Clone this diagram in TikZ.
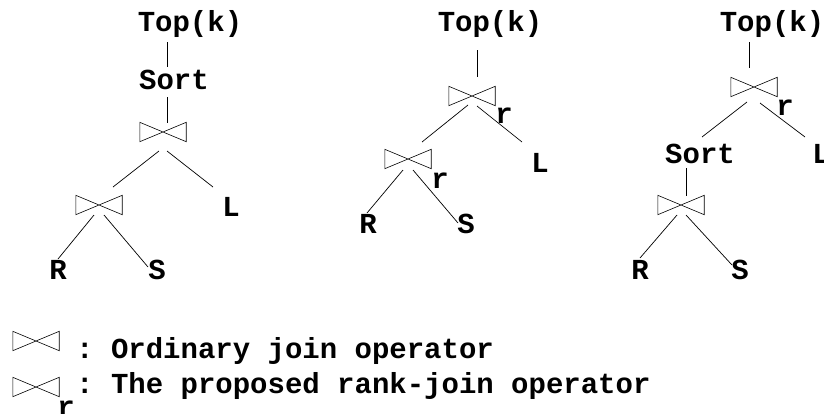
\documentclass[tikz,border=0pt]{standalone}
\usepackage{fontspec}
\setmonofont{Liberation Mono}
\usetikzlibrary{calc}

\tikzset{
  lbl/.style={inner sep=0pt, font=\ttfamily\bfseries\fontsize{29}{29}\selectfont},
  bowtie/.style={draw=none, inner sep=0pt, minimum width=46pt, minimum height=19pt,
    append after command={\pgfextra{\draw[line width=0.6pt, line join=miter]
      (\tikzlastnode.north west) -- (\tikzlastnode.south west)
      -- (\tikzlastnode.north east) -- (\tikzlastnode.south east) -- cycle;}}},
  edge/.style={line width=0.7pt}
}

\begin{document}
\begin{tikzpicture}[x=1pt,y=-1pt]
\useasboundingbox (0,0) rectangle (824,413);

% ---- plan 1: sort over ordinary joins ----
\node[lbl] (t1top)  at (190,24) {Top(k)};
\node[lbl] (t1sort) at (174,80) {Sort};
\node[bowtie] (j1) at (163,132) {};
\node[bowtie] (j2) at (99,205) {};
\node[lbl] (t1L) at (231,207) {L};
\node[lbl] (t1R) at (58,270) {R};
\node[lbl] (t1S) at (157,270) {S};

\draw[edge] ([shift={(-23,18)}]t1top.center) -- ([shift={(-7,-13)}]t1sort.center);
\draw[edge] ([shift={(-7,17)}]t1sort.center) -- ([shift={(4,-9)}]j1.center);
\draw[edge] ([shift={(-4,19)}]j1.center) -- ([shift={(14,-18)}]j2.center);
\draw[edge] ([shift={(4,19)}]j1.center) -- ([shift={(-18,-20)}]t1L.center);
\draw[edge] ([shift={(-5,10)}]j2.center) -- ([shift={(0,-11)}]t1R.center);
\draw[edge] ([shift={(5,10)}]j2.center) -- ([shift={(-9,-3)}]t1S.center);

% ---- plan 2: rank-joins only ----
\node[lbl] (t2top) at (490,24) {Top(k)};
\node[bowtie] (j3) at (472,96) {};
\node[lbl] (r3) at (504,116) {r};
\node[bowtie] (j4) at (408,159) {};
\node[lbl] (r4) at (440,181) {r};
\node[lbl] (t2L) at (540,163) {L};
\node[lbl] (t2R) at (368,224) {R};
\node[lbl] (t2S) at (466,224) {S};

\draw[edge] ([shift={(-13,26)}]t2top.center) -- ([shift={(5,-19)}]j3.center);
\draw[edge] ([shift={(-4,9)}]j3.center) -- ([shift={(14,-17)}]j4.center);
\draw[edge] ([shift={(5,10)}]j3.center) -- ([shift={(-18,-21)}]t2L.center);
\draw[edge] ([shift={(-5,11)}]j4.center) -- ([shift={(-1,-11)}]t2R.center);
\draw[edge] ([shift={(5,11)}]j4.center) -- ([shift={(-8,-1)}]t2S.center);

% ---- plan 3: rank-join over a sorted ordinary join ----
\node[lbl] (t3top) at (772,24) {Top(k)};
\node[bowtie] (j5) at (754,87) {};
\node[lbl] (r5) at (785,108) {r};
\node[lbl] (t3sort) at (700,154) {Sort};
\node[lbl] (t3L) at (821,154) {L};
\node[bowtie] (j6) at (681,205) {};
\node[lbl] (t3R) at (640,270) {R};
\node[lbl] (t3S) at (740,270) {S};

\draw[edge] ([shift={(-23,18)}]t3top.center) -- ([shift={(-5,-19)}]j5.center);
\draw[edge] ([shift={(-7,15)}]j5.center) -- ([shift={(2,-17)}]t3sort.center);
\draw[edge] ([shift={(6,16)}]j5.center) -- ([shift={(-16,-17)}]t3L.center);
\draw[edge] ([shift={(-14,14)}]t3sort.center) -- ([shift={(5,-9)}]j6.center);
\draw[edge] ([shift={(-4,10)}]j6.center) -- ([shift={(0,-12)}]t3R.center);
\draw[edge] ([shift={(5,10)}]j6.center) -- ([shift={(-8,-5)}]t3S.center);

% ---- legend ----
\node[bowtie] (lgj) at (36,341) {};
\node[lbl, anchor=base west] (lgtxt1) at (76,358) {: Ordinary join operator};
\node[bowtie] (lgr) at (36,387) {};
\node[lbl] (lgrr) at (66,409) {r};
\node[lbl, anchor=base west] (lgtxt2) at (76,393) {: The proposed rank-join operator};
\end{tikzpicture}
\end{document}
